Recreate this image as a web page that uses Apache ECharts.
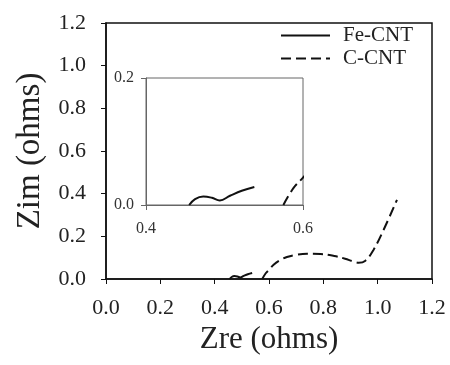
<!DOCTYPE html>
<html><head><meta charset="utf-8">
<script src="https://cdn.jsdelivr.net/npm/echarts@6/dist/echarts.min.js"></script>
<style>html,body{margin:0;padding:0;background:#fff}#c{width:450px;height:365px}</style>
</head><body><div id="c"></div>
<script>
var feX = [0.455, 0.4625, 0.473, 0.484, 0.494, 0.507, 0.522, 0.538];
var feY = [0.0, 0.0094, 0.0135, 0.0114, 0.0072, 0.0146, 0.0224, 0.0282];
var cX = [0.575, 0.588, 0.6, 0.617, 0.64, 0.666, 0.70, 0.74, 0.79, 0.84, 0.88, 0.91, 0.93, 0.955, 0.985, 1.022, 1.071];
var cY = [0.0, 0.027, 0.043, 0.067, 0.088, 0.103, 0.113, 0.118, 0.117, 0.108, 0.095, 0.082, 0.076, 0.086, 0.137, 0.231, 0.371];
var mainTicks = [0.0, 0.2, 0.4, 0.6, 0.8, 1.0, 1.2];
var insetXTicks = [0.4, 0.6];
var insetYTicks = [0.0, 0.2];
var seriesNames = ['Fe-CNT', 'C-CNT'];
var xTitle = 'Zre (ohms)';
var yTitle = 'Zim (ohms)';

function pairs(xs, ys){ return xs.map(function(x,i){ return [x, ys[i]]; }); }
var feData = pairs(feX, feY);
var cData = pairs(cX, cY);
var font = 'Liberation Serif';
var fmt = function(v){ return Number(v).toFixed(1); };

var chart = echarts.init(document.getElementById('c'), null, {renderer:'canvas'});
chart.setOption({
  animation:false,
  backgroundColor:'#fff',
  textStyle:{fontFamily:font},
  grid:[
    {left:106, right:18, top:23, bottom:86, show:true, borderColor:'#111', borderWidth:1.5, backgroundColor:'transparent'},
    {left:146, right:147, top:78, bottom:160, show:true, borderColor:'#666', borderWidth:1, backgroundColor:'#fff'}
  ],
  legend:{
    left:280, top:25, orient:'vertical', align:'left', padding:0,
    itemWidth:49, itemHeight:14, itemGap:2,
    data:seriesNames,
    itemStyle:{color:'rgba(0,0,0,0)', borderWidth:0, opacity:0},
    textStyle:{fontFamily:font, fontSize:21, color:'#222', padding:[0,0,0,8], lineHeight:21},
    selectedMode:false
  },
  xAxis:[
    {gridIndex:0, type:'value', min:mainTicks[0], max:mainTicks[mainTicks.length-1], interval:0.2,
     name:xTitle, nameLocation:'middle', nameGap:43, nameTextStyle:{fontFamily:font, fontSize:31, color:'#222'},
     axisLine:{show:true, lineStyle:{color:'#111', width:1.5}},
     axisTick:{show:true, inside:false, length:5, lineStyle:{color:'#111', width:1}},
     axisLabel:{margin:18, fontFamily:font, fontSize:22, color:'#222', formatter:fmt},
     splitLine:{show:false}},
    {gridIndex:1, type:'value', min:insetXTicks[0], max:insetXTicks[1], interval:0.2,
     axisLine:{show:true, lineStyle:{color:'#666', width:1}},
     axisTick:{show:true, inside:false, length:5, lineStyle:{color:'#666'}},
     axisLabel:{margin:16, fontFamily:font, fontSize:16, color:'#333', formatter:fmt},
     splitLine:{show:false}}
  ],
  yAxis:[
    {gridIndex:0, type:'value', min:mainTicks[0], max:mainTicks[mainTicks.length-1], interval:0.2,
     name:yTitle, nameLocation:'middle', nameGap:59, nameRotate:90, nameTextStyle:{fontFamily:font, fontSize:33, color:'#222'},
     axisLine:{show:true, lineStyle:{color:'#111', width:1.5}},
     axisTick:{show:true, inside:false, length:5, lineStyle:{color:'#111', width:1}},
     axisLabel:{margin:20, fontFamily:font, fontSize:22, color:'#222', formatter:fmt},
     splitLine:{show:false}},
    {gridIndex:1, type:'value', min:insetYTicks[0], max:insetYTicks[1], interval:0.2,
     axisLine:{show:true, lineStyle:{color:'#666', width:1}},
     axisTick:{show:true, inside:false, length:5, lineStyle:{color:'#666'}},
     axisLabel:{margin:12, fontFamily:font, fontSize:16, color:'#333', formatter:fmt},
     splitLine:{show:false}}
  ],
  series:[
    {name:seriesNames[0], type:'line', xAxisIndex:0, yAxisIndex:0, data:feData, smooth:0.4, symbol:'none',
     lineStyle:{color:'#111', width:2, type:'solid'}, itemStyle:{color:'#111'}, clip:true},
    {name:seriesNames[1], type:'line', xAxisIndex:0, yAxisIndex:0, data:cData, smooth:0.4, symbol:'none',
     lineStyle:{color:'#111', width:2, type:[10,5]}, itemStyle:{color:'#111'}, clip:true},
    {name:seriesNames[0], type:'line', xAxisIndex:1, yAxisIndex:1, data:feData, smooth:0.4, symbol:'none',
     lineStyle:{color:'#111', width:2, type:'solid'}, itemStyle:{color:'#111'}, clip:true},
    {name:seriesNames[1], type:'line', xAxisIndex:1, yAxisIndex:1, data:cData, smooth:0.4, symbol:'none',
     lineStyle:{color:'#111', width:2, type:[10,5]}, itemStyle:{color:'#111'}, clip:true}
  ]
});
</script></body></html>
